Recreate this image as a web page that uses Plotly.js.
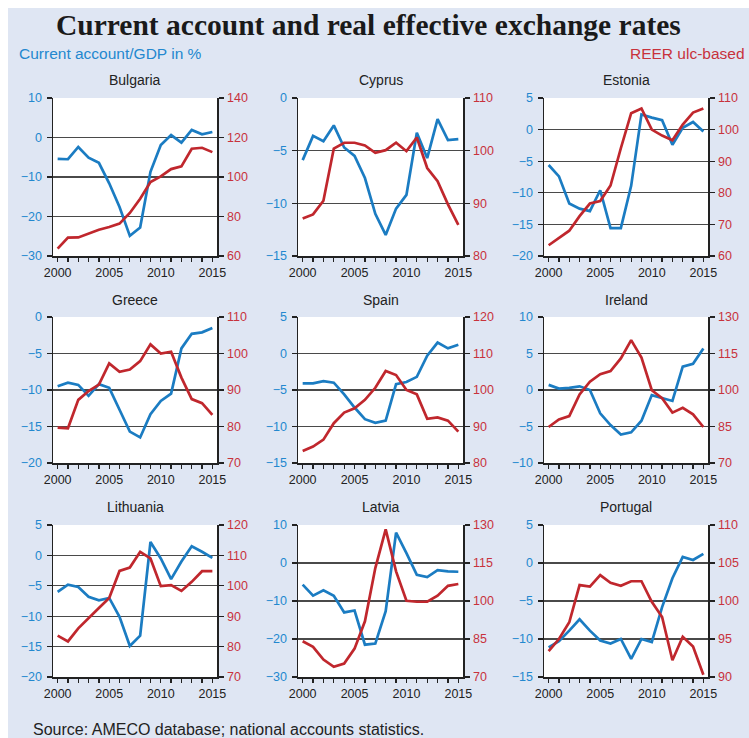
<!DOCTYPE html>
<html>
<head>
<meta charset="utf-8">
<script src="https://cdn.plot.ly/plotly-3.0.1.min.js"></script>
<style>html,body{margin:0;padding:0;background:#fff;}#chart{width:749px;height:738px;}</style>
</head>
<body>
<div id="chart"></div>
<script>
const years = [2000,2001,2002,2003,2004,2005,2006,2007,2008,2009,2010,2011,2012,2013,2014,2015];
const countries = ["Bulgaria","Cyprus","Estonia","Greece","Spain","Ireland","Lithuania","Latvia","Portugal"];

// Current account / GDP in %
const caBulgaria  = [-5.4,-5.5,-2.4,-5.1,-6.4,-11.6,-17.6,-24.9,-22.8,-8.7,-1.9,0.6,-1.3,1.9,0.8,1.4];
const caCyprus    = [-5.9,-3.6,-4.1,-2.6,-4.7,-5.5,-7.6,-11.0,-13.0,-10.5,-9.2,-3.3,-5.7,-2.0,-4.0,-3.9];
const caEstonia   = [-5.6,-7.4,-11.7,-12.5,-12.9,-9.6,-15.6,-15.6,-8.9,2.4,1.9,1.5,-2.4,0.3,1.2,-0.3];
const caGreece    = [-9.5,-9.0,-9.3,-10.8,-9.2,-9.7,-12.7,-15.7,-16.5,-13.3,-11.5,-10.5,-4.3,-2.3,-2.1,-1.5];
const caSpain     = [-4.1,-4.1,-3.8,-4.0,-5.6,-7.4,-9.0,-9.5,-9.2,-4.2,-3.9,-3.2,-0.3,1.5,0.7,1.2];
const caIreland   = [0.7,0.2,0.3,0.5,0.0,-3.2,-4.8,-6.1,-5.8,-4.2,-0.7,-1.1,-1.5,3.2,3.6,5.7];
const caLithuania = [-6.0,-4.8,-5.2,-6.8,-7.4,-7.0,-10.1,-14.9,-13.2,2.2,-0.5,-3.9,-1.0,1.5,0.6,-0.4];
const caLatvia    = [-5.7,-8.6,-7.2,-8.6,-13.0,-12.5,-21.5,-21.2,-12.7,8.0,2.6,-3.1,-3.7,-1.9,-2.2,-2.3];
const caPortugal  = [-11.1,-10.3,-8.9,-7.4,-8.9,-10.2,-10.6,-10.0,-12.6,-10.0,-10.4,-5.8,-2.0,0.8,0.4,1.2];

// REER, unit-labour-cost based
const reerBulgaria  = [63.7,69.3,69.4,71.3,73.3,74.7,76.4,81.8,89.0,97.5,100.3,104.0,105.4,114.3,114.8,112.6];
const reerCyprus    = [87.1,87.9,90.5,100.4,101.5,101.5,101.0,99.6,100.1,101.5,99.9,102.5,96.7,94.2,89.8,85.9];
const reerEstonia   = [63.4,65.6,68.0,72.6,76.6,77.4,82.3,94.1,105.2,106.7,100.0,98.1,96.6,101.6,105.4,106.7];
const reerGreece    = [79.7,79.5,87.3,89.7,91.5,97.3,95.0,95.6,97.9,102.5,100.0,100.5,93.4,87.5,86.4,83.2];
const reerSpain     = [83.3,84.5,86.4,90.9,93.8,95.0,97.3,100.6,105.2,104.1,100.0,98.8,92.1,92.5,91.6,88.6];
const reerIreland   = [84.8,87.9,89.3,98.2,103.4,106.5,107.8,113.0,120.5,113.3,99.9,96.6,90.7,92.7,90.0,84.8];
const reerLithuania = [83.6,81.7,86.0,89.5,92.7,96.0,104.9,106.0,111.2,109.0,99.9,100.2,98.3,101.3,104.8,104.8];
const reerLatvia    = [84.1,81.9,76.9,74.0,75.3,81.2,92.0,113.0,128.3,111.7,100.1,99.7,99.7,102.1,106.0,106.7];
const reerPortugal  = [93.4,95.0,97.2,102.1,101.9,103.4,102.4,102.0,102.6,102.6,99.9,97.9,92.2,95.3,94.0,90.3];

const caSeries   = [caBulgaria,caCyprus,caEstonia,caGreece,caSpain,caIreland,caLithuania,caLatvia,caPortugal];
const reerSeries = [reerBulgaria,reerCyprus,reerEstonia,reerGreece,reerSpain,reerIreland,reerLithuania,reerLatvia,reerPortugal];

// axis scales (left: CA, right: REER)
const leftRanges  = [[-30,10],[-15,0],[-20,5],[-20,0],[-15,5],[-10,10],[-20,5],[-30,10],[-15,5]];
const leftSteps   = [10,5,5,5,5,5,5,10,5];
const rightRanges = [[60,140],[80,110],[60,110],[70,110],[80,120],[70,130],[70,120],[70,130],[90,110]];
const rightSteps  = [20,10,10,10,10,15,10,15,5];

const W = 749, H = 738;
const colPx = [[53,217],[298,463],[544,708]];
const rowPx = [[98,256],[317,463],[525,677]];
const titleY = [80,300,507];

const BLUE = '#1b7cc2', RED = '#c0272d';
const BLUE_T = '#2388cf', RED_T = '#c8323c';
const FONT = 'Liberation Sans, Arial, sans-serif';

const data = [];
const layout = {
  width: W, height: H,
  margin: {l:0, r:0, t:0, b:0},
  paper_bgcolor: '#dfe6f3',
  plot_bgcolor: '#ffffff',
  showlegend: false,
  font: {family: FONT, size: 12, color: '#222'},
  annotations: [],
  shapes: [
    {type:'rect', xref:'paper', yref:'paper', x0:0, x1:8/W, y0:0, y1:1, fillcolor:'#ffffff', line:{width:0}},
    {type:'rect', xref:'paper', yref:'paper', x0:0, x1:1, y0:1-8/H, y1:1, fillcolor:'#ffffff', line:{width:0}}
  ]
};

countries.forEach((name, i) => {
  const n = i + 1, n2 = i + 10;
  const c = colPx[i % 3], r = rowPx[Math.floor(i / 3)];
  const xd = [c[0]/W, c[1]/W];
  const yd = [1 - r[1]/H, 1 - r[0]/H];
  layout['xaxis' + n] = {
    domain: xd, anchor: 'y' + n, range: [1999.55, 2015.45],
    tickmode: 'array', tickvals: years,
    ticktext: years.map(y => (y % 5 === 0 ? String(y) : '')),
    ticks: 'outside', ticklen: 4, tickwidth: 1.3, tickcolor: '#222',
    showline: true, linecolor: '#222', linewidth: 1.5,
    showgrid: false, zeroline: false,
    tickfont: {family: FONT, size: 12.5, color: '#222'}, fixedrange: true
  };
  layout['yaxis' + n] = {
    domain: yd, anchor: 'x' + n, range: leftRanges[i],
    tickmode: 'linear', tick0: leftRanges[i][0], dtick: leftSteps[i],
    ticks: 'outside', ticklen: 5, tickwidth: 1.3, tickcolor: '#222',
    showline: true, linecolor: '#222', linewidth: 1.5, ticklabelstandoff: 2,
    showgrid: true, gridcolor: '#4a4a4a', gridwidth: 1.2, zeroline: false,
    tickfont: {family: FONT, size: 12.5, color: BLUE_T}, fixedrange: true
  };
  layout['yaxis' + n2] = {
    overlaying: 'y' + n, side: 'right', anchor: 'x' + n, range: rightRanges[i],
    tickmode: 'linear', tick0: rightRanges[i][0], dtick: rightSteps[i],
    ticks: 'outside', ticklen: 5, tickwidth: 1.3, tickcolor: '#222',
    showline: true, linecolor: '#222', linewidth: 1.5, ticklabelstandoff: 1,
    showgrid: false, zeroline: false,
    tickfont: {family: FONT, size: 12.5, color: RED_T}, fixedrange: true
  };
  data.push({x: years, y: caSeries[i], xaxis: 'x' + n, yaxis: 'y' + n, mode: 'lines',
             line: {color: BLUE, width: 2.7}, hoverinfo: 'skip'});
  data.push({x: years, y: reerSeries[i], xaxis: 'x' + n, yaxis: 'y' + n2, mode: 'lines',
             line: {color: RED, width: 2.7}, hoverinfo: 'skip'});
  layout.annotations.push({
    text: name, xref: 'paper', yref: 'paper', x: (xd[0] + xd[1]) / 2, y: 1 - titleY[Math.floor(i/3)]/H,
    xanchor: 'center', yanchor: 'middle', showarrow: false,
    font: {family: FONT, size: 14, color: '#222'}
  });
});

layout.annotations.push(
  {text: '<b>Current account and real effective exchange rates</b>', xref:'paper', yref:'paper',
   x: 368/W, y: 1 - 25/H, xanchor:'center', yanchor:'middle', showarrow:false,
   font:{family:'Liberation Serif, Times New Roman, serif', size:29.5, color:'#1a1a1a'}},
  {text: 'Current account/GDP in %', xref:'paper', yref:'paper', x: 17/W, y: 1 - 53/H,
   xanchor:'left', yanchor:'middle', showarrow:false, font:{family:FONT, size:15.5, color:BLUE_T}},
  {text: 'REER ulc-based', xref:'paper', yref:'paper', x: 747/W, y: 1 - 53/H,
   xanchor:'right', yanchor:'middle', showarrow:false, font:{family:FONT, size:15.5, color:RED_T}},
  {text: 'Source: AMECO database; national accounts statistics.', xref:'paper', yref:'paper',
   x: 31/W, y: 1 - 729/H, xanchor:'left', yanchor:'middle', showarrow:false,
   font:{family:FONT, size:16, color:'#222'}}
);

Plotly.newPlot('chart', data, layout, {staticPlot: true, displayModeBar: false});
</script>
</body>
</html>
